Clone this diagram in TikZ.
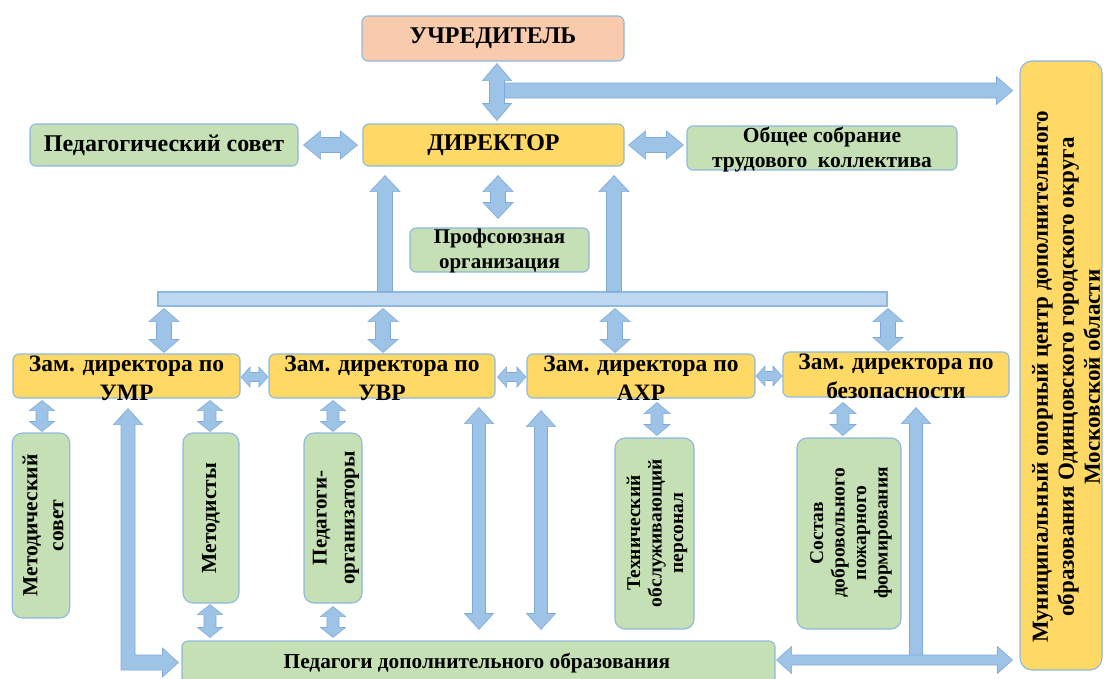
\documentclass[tikz,border=0pt]{standalone}
\usepackage{fontspec}
\setmainfont{Liberation Serif}
\usetikzlibrary{calc}
\definecolor{peach}{HTML}{F8CBAD}
\definecolor{yel}{HTML}{FFD966}
\definecolor{grn}{HTML}{C5E0B4}
\definecolor{barfill}{HTML}{BDD7EE}
\definecolor{boxedge}{HTML}{8DB8E0}
\definecolor{arrowfill}{HTML}{9DC3E6}
\definecolor{arrowedge}{HTML}{7FAADB}
\newcommand\fsz[2]{\fontsize{#1}{#2}\selectfont}
% vertical double block arrow: x, top anchor, bottom anchor, top gap, bottom gap, shaft half, head half, head length
\newcommand\vdarr[8]{%
 \path[blk] let \p1=(#1,0 |- #2), \p2=(#1,0 |- #3) in
   (\x1,{\y1-#4}) -- ({\x1+#7},{\y1-#4-#8}) -- ({\x1+#6},{\y1-#4-#8}) -- ({\x1+#6},{\y2+#5+#8}) -- ({\x1+#7},{\y2+#5+#8}) -- (\x1,{\y2+#5}) -- ({\x1-#7},{\y2+#5+#8}) -- ({\x1-#6},{\y2+#5+#8}) -- ({\x1-#6},{\y1-#4-#8}) -- ({\x1-#7},{\y1-#4-#8}) -- cycle;}
% horizontal double block arrow: y, left anchor, right anchor, left gap, right gap, shaft half, head half, head length
\newcommand\hdarr[8]{%
 \path[blk] let \p1=(#2 |- 0,#1), \p2=(#3 |- 0,#1) in
  ({\x1+#4},\y1) -- ({\x1+#4+#8},{\y1+#7}) -- ({\x1+#4+#8},{\y1+#6}) -- ({\x2-#5-#8},{\y1+#6}) -- ({\x2-#5-#8},{\y1+#7}) -- ({\x2-#5},\y1) -- ({\x2-#5-#8},{\y1-#7}) -- ({\x2-#5-#8},{\y1-#6}) -- ({\x1+#4+#8},{\y1-#6}) -- ({\x1+#4+#8},{\y1-#7}) -- cycle;}
% upward single block arrow: x, tail anchor, tip anchor, tip gap, shaft half, head half, head length
\newcommand\uparr[7]{%
 \path[blk] let \p1=(#1,0 |- #2), \p2=(#1,0 |- #3) in
  (\x1,{\y2-#4}) -- ({\x1+#6},{\y2-#4-#7}) -- ({\x1+#5},{\y2-#4-#7}) -- ({\x1+#5},\y1) -- ({\x1-#5},\y1) -- ({\x1-#5},{\y2-#4-#7}) -- ({\x1-#6},{\y2-#4-#7}) -- cycle;}
% rightward single block arrow: y, tail anchor, tip anchor, tip gap, shaft half, head half, head length
\newcommand\rarr[7]{%
 \path[blk] let \p1=(#2 |- 0,#1), \p2=(#3 |- 0,#1) in
  (\x1,{\y1+#5}) -- ({\x2-#4-#7},{\y1+#5}) -- ({\x2-#4-#7},{\y1+#6}) -- ({\x2-#4},\y1) -- ({\x2-#4-#7},{\y1-#6}) -- ({\x2-#4-#7},{\y1-#5}) -- (\x1,{\y1-#5}) -- cycle;}
\begin{document}
\begin{tikzpicture}[x=1pt,y=-1pt,
  box/.style={draw=boxedge,line width=1.1pt,rounded corners=6pt,inner sep=0pt,align=center,text=black},
  vbox/.style={box,rounded corners=10pt},
  blk/.style={fill=arrowfill,draw=arrowedge,line width=0.6pt,line join=miter},
  txt/.style={inner sep=0pt,align=center,text=black},
  bigf/.style={font=\bfseries\fsz{24}{27}},
  zamf/.style={font=\bfseries\fsz{23.5}{29}},
  midf/.style={font=\bfseries\fsz{21}{25}},
  smf/.style={font=\bfseries\fsz{19.5}{21.5}}]
\useasboundingbox (0,0) rectangle (1104,678);
\clip (0,0) rectangle (1104,678);

% ---- boxes ----
\node[box,fill=peach,bigf,minimum width=262pt,minimum height=45pt] (uchr) at (493,38.5) {УЧРЕДИТЕЛЬ};
\node[box,fill=yel,bigf,minimum width=261pt,minimum height=42pt] (dir) at (493.5,145) {ДИРЕКТОР};
\node[box,fill=grn,bigf,minimum width=268pt,minimum height=42pt] (pedsov) at (164,145) {Педагогический совет};
\node[box,fill=grn,minimum width=270pt,minimum height=44pt] (obsh) at (822,148) {};
\node[txt,font=\bfseries\fsz{21.5}{25}] (obsh-t) at (822,150) {Общее собрание\\трудового\ \ коллектива};
\node[box,fill=grn,minimum width=179pt,minimum height=44pt] (prof) at (499.5,250) {};
\node[txt,midf] (prof-t) at (499.5,251) {Профсоюзная\\организация};
\node[box,fill=barfill,rounded corners=0pt,minimum width=729pt,minimum height=14pt] (bar) at (522.5,299) {};

\node[box,fill=yel,minimum width=227pt,minimum height=44pt] (zumr) at (126.5,376) {};
\node[box,fill=yel,minimum width=226pt,minimum height=44pt] (zuvr) at (382,376) {};
\node[box,fill=yel,minimum width=228pt,minimum height=44pt] (zahr) at (641,376) {};
\node[box,fill=yel,minimum width=226pt,minimum height=45pt] (zbez) at (896,374.5) {};
\node[txt,zamf] (zumr-t) at (126.5,378) {Зам. директора по\\УМР};
\node[txt,zamf] (zuvr-t) at (382,378) {Зам. директора по\\УВР};
\node[txt,zamf] (zahr-t) at (641,378) {Зам. директора по\\АХР};
\node[txt,zamf] (zbez-t) at (896,376) {Зам. директора по\\безопасности};

\node[vbox,fill=grn,minimum width=57.5pt,minimum height=185pt] (msov) at (41,525.5) {};
\node[vbox,fill=grn,minimum width=56pt,minimum height=170pt] (metod) at (211,518) {};
\node[vbox,fill=grn,minimum width=58pt,minimum height=170pt] (porg) at (333,518) {};
\node[vbox,fill=grn,minimum width=79pt,minimum height=191pt] (tech) at (654.5,533.5) {};
\node[vbox,fill=grn,minimum width=104pt,minimum height=191pt] (sost) at (849,533.5) {};
\node[txt,rotate=90,font=\bfseries\fsz{21.5}{26}] (msov-t) at (43,525.5) {Методический\\совет};
\node[txt,rotate=90,font=\bfseries\fsz{21.5}{25}] (metod-t) at (211,518) {Методисты};
\node[txt,rotate=90,font=\bfseries\fsz{21}{28}] (porg-t) at (336,518) {Педагоги-\\организаторы};
\node[txt,rotate=90,smf] (tech-t) at (657,533) {Технический\\обслуживающий\\персонал};
\node[txt,rotate=90,smf] (sost-t) at (851,533) {Состав\\добровольного\\пожарного\\формирования};

\node[box,fill=grn,minimum width=593pt,minimum height=44pt] (pdo) at (478.5,663) {};
\node[txt,font=\bfseries\fsz{21.3}{26}] (pdo-t) at (477,663) {Педагоги дополнительного образования};

\node[box,fill=yel,rounded corners=12pt,minimum width=82pt,minimum height=609pt] (mun) at (1061,365.5) {};
\node[txt,rotate=90,font=\bfseries\fsz{23}{26}] (mun-t) at (1066,377) {Муниципальный опорный центр дополнительного\\образования Одинцовского городского округа\\Московской области};

% ---- block arrows ----
\coordinate (j1) at (504,90.5);
\rarr{90.5}{j1}{mun.west}{7pt}{7.5pt}{14pt}{16pt}
\vdarr{497}{uchr.south}{dir.north}{2pt}{3pt}{7.5pt}{14.5pt}{17pt}
\hdarr{145}{pedsov.east}{dir.west}{5pt}{5pt}{7.5pt}{14pt}{17pt}
\hdarr{145}{dir.east}{obsh.west}{4pt}{3pt}{7.5pt}{14pt}{17pt}
\vdarr{498}{dir.south}{prof.north}{9pt}{9pt}{7.5pt}{15pt}{16pt}
\uparr{385}{bar.north}{dir.south}{9pt}{7.5pt}{15pt}{16pt}
\uparr{614}{bar.north}{dir.south}{9pt}{7.5pt}{15pt}{16pt}

\vdarr{164}{bar.south}{zumr.north}{2pt}{1pt}{7.5pt}{15pt}{13pt}
\vdarr{383}{bar.south}{zuvr.north}{2pt}{1pt}{7.5pt}{15pt}{13pt}
\vdarr{615}{bar.south}{zahr.north}{2pt}{1pt}{7.5pt}{15pt}{13pt}
\vdarr{888}{bar.south}{zbez.north}{2pt}{1pt}{7.5pt}{15pt}{13pt}

\hdarr{377}{zumr.east}{zuvr.west}{0.5pt}{0.5pt}{4.5pt}{10pt}{9pt}
\hdarr{377}{zuvr.east}{zahr.west}{2pt}{0.5pt}{4.5pt}{10pt}{9pt}
\hdarr{376}{zahr.east}{zbez.west}{0.5pt}{0.5pt}{4.5pt}{10pt}{9pt}

\vdarr{42}{zumr.south}{msov.north}{2pt}{1pt}{6pt}{12.5pt}{10pt}
\vdarr{210}{zumr.south}{metod.north}{2pt}{1pt}{6pt}{12.5pt}{10pt}
\vdarr{333}{zuvr.south}{porg.north}{2pt}{1pt}{6pt}{12.5pt}{10pt}
\vdarr{657}{zahr.south}{tech.north}{4pt}{2pt}{6pt}{13pt}{11pt}
\vdarr{843}{zbez.south}{sost.north}{5pt}{2pt}{6pt}{13pt}{11pt}
\vdarr{210}{metod.south}{pdo.north}{1pt}{3pt}{6pt}{12.5pt}{10pt}
\vdarr{333}{porg.south}{pdo.north}{3pt}{3pt}{6pt}{12.5pt}{10pt}
\vdarr{479}{zuvr.south}{pdo.north}{9pt}{11pt}{6.5pt}{14.5pt}{16pt}
\vdarr{541}{zahr.south}{pdo.north}{12pt}{11pt}{6.5pt}{14.5pt}{16pt}

% L-shaped arrow UMR -> teachers
\path[blk] let \p1=(128,0 |- zumr.south), \p2=(pdo.west |- 0,662.5) in
 (\x1,{\y1-10pt}) -- ({\x1+14.5pt},{\y1-26pt}) -- ({\x1+7pt},{\y1-26pt}) -- ({\x1+7pt},{\y2+7.5pt}) -- ({\x2-19pt},{\y2+7.5pt}) -- ({\x2-19pt},{\y2+14.5pt}) -- ({\x2-3pt},\y2) -- ({\x2-19pt},{\y2-14.5pt}) -- ({\x2-19pt},{\y2-7.5pt}) -- ({\x1-7pt},{\y2-7.5pt}) -- ({\x1-7pt},{\y1-26pt}) -- ({\x1-14.5pt},{\y1-26pt}) -- cycle;

% T-shaped arrows on the right
\coordinate (j2) at (916,657);
\uparr{916}{j2}{zbez.south}{10pt}{6.5pt}{14.5pt}{16pt}
\hdarr{660}{pdo.east}{mun.west}{1pt}{7pt}{5pt}{13.5pt}{15pt}
\end{tikzpicture}
\end{document}
